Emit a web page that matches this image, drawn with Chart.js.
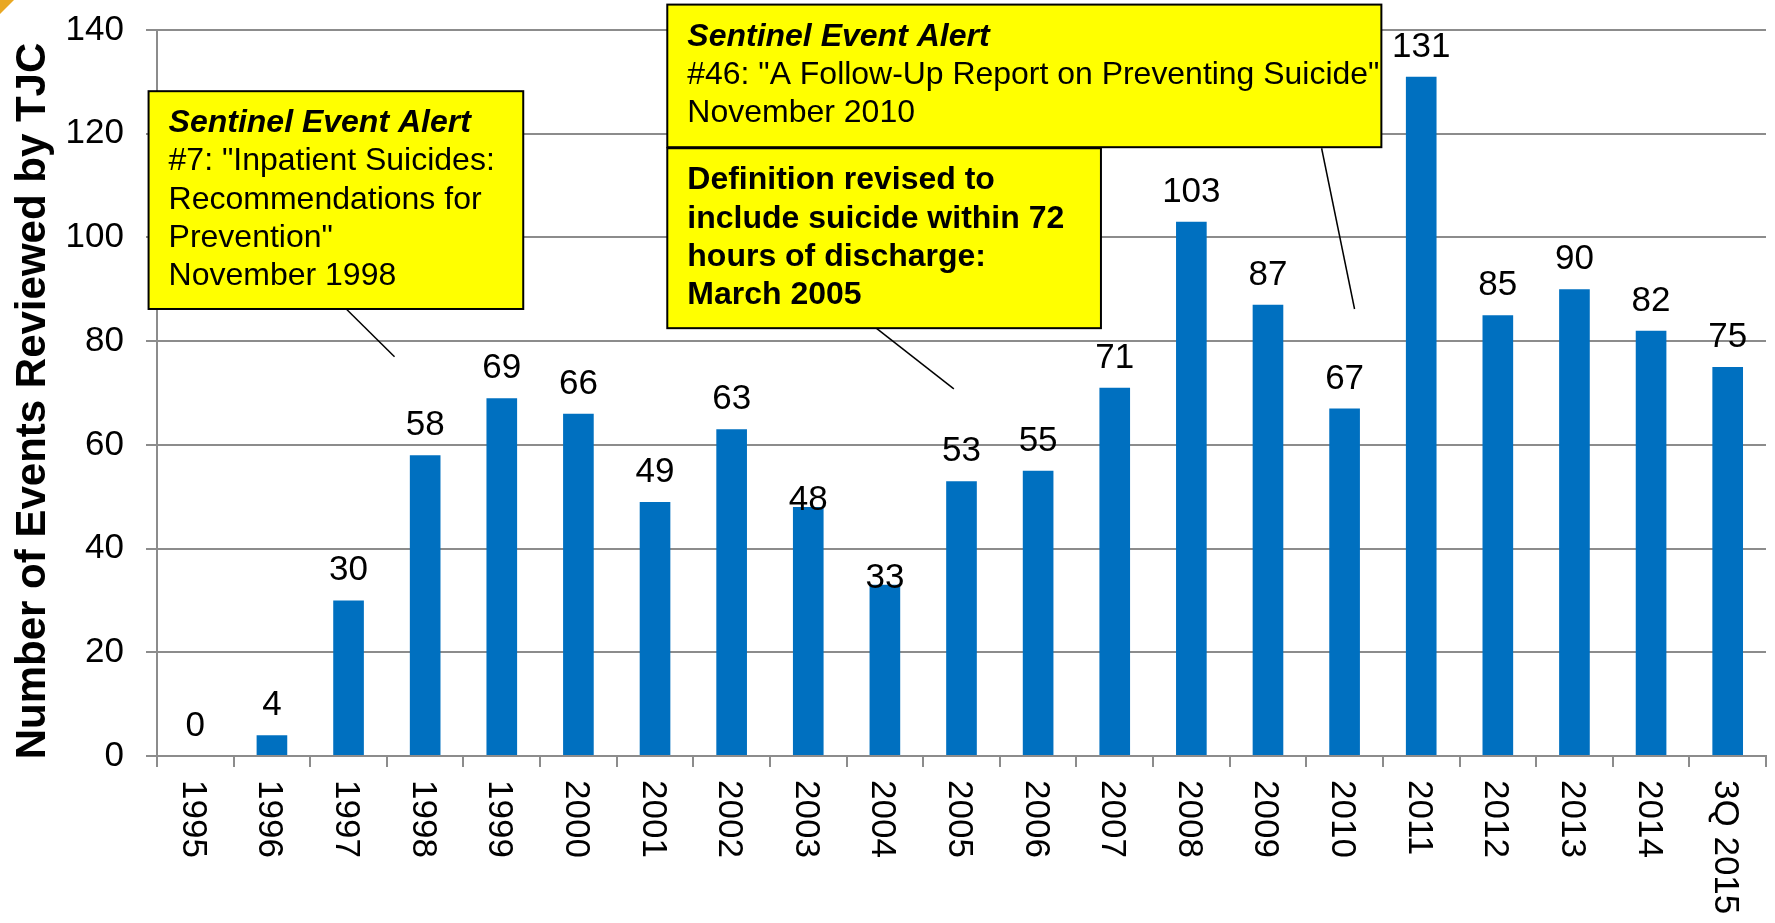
<!DOCTYPE html>
<html>
<head>
<meta charset="utf-8">
<script src="https://cdn.jsdelivr.net/npm/chart.js@4/dist/chart.umd.min.js"></script>
<style>
  html, body { margin: 0; padding: 0; background: #fff; }
  #wrap { width: 1775px; height: 923px; position: relative; }
</style>
</head>
<body>
<div id="wrap"><canvas id="myChart"></canvas></div>
<script>
// data
var years = ['1995', '1996', '1997', '1998', '1999', '2000', '2001', '2002', '2003', '2004', '2005',
             '2006', '2007', '2008', '2009', '2010', '2011', '2012', '2013', '2014', '3Q 2015'];
var counts = [0, 4, 30, 58, 69, 66, 49, 63, 48, 33, 53, 55, 71, 103, 87, 67, 131, 85, 90, 82, 75];
var yTicks = [0, 20, 40, 60, 80, 100, 120, 140];
var yTitle = 'Number of Events Reviewed by TJC';

var FONT = '"Liberation Sans", Arial, sans-serif';
var GRID = '#8c8c8c';
var BLUE = '#0070c0';

// the two labels that sit lower in the original
var labelNudge = { 8: 23, 9: 23 };

// callout boxes, placed in axis units (category index, value)
var notes = [
  {
    box: [-0.61, 128.2, 4.28, 86.2],
    lines: [['bold italic', 'Sentinel Event Alert'],
            ['', '#7: "Inpatient Suicides:'],
            ['', 'Recommendations for'],
            ['', 'Prevention"'],
            ['', 'November 1998']],
    leader: [1.97, 86.2, 2.6, 77.0]
  },
  {
    box: [6.16, 144.9, 15.48, 117.4],
    lines: [['bold italic', 'Sentinel Event Alert'],
            ['', '#46: "A Follow-Up Report on Preventing Suicide"'],
            ['', 'November 2010']],
    leader: [14.7, 117.2, 15.13, 86.2]
  },
  {
    box: [6.16, 117.2, 11.82, 82.5],
    lines: [['bold', 'Definition revised to'],
            ['bold', 'include suicide within 72'],
            ['bold', 'hours of discharge:'],
            ['bold', 'March 2005']],
    leader: [8.87, 82.7, 9.9, 70.8]
  }
];

var extras = {
  id: 'extras',
  beforeDraw: function(chart) {
    var ctx = chart.ctx;
    // little corner mark from the slide
    ctx.save();
    ctx.fillStyle = '#e9a823';
    ctx.beginPath();
    ctx.moveTo(0, 0); ctx.lineTo(14, 0); ctx.lineTo(0, 14);
    ctx.closePath();
    ctx.fill();
    ctx.restore();
  },
  afterDraw: function(chart) {
    var ctx = chart.ctx;
    var xs = chart.scales.x, ys = chart.scales.y;
    var meta = chart.getDatasetMeta(0);
    ctx.save();

    // axis title, turned counter-clockwise
    ctx.save();
    ctx.font = 'bold 42px ' + FONT;
    ctx.fillStyle = '#000';
    ctx.textAlign = 'center';
    ctx.textBaseline = 'alphabetic';
    ctx.translate(45, (ys.top + ys.bottom) / 2 + 8);
    ctx.rotate(-Math.PI / 2);
    ctx.fillText(yTitle, 0, 0);
    ctx.restore();

    // value labels over the bars
    ctx.font = '35px ' + FONT;
    ctx.fillStyle = '#000';
    ctx.textAlign = 'center';
    ctx.textBaseline = 'alphabetic';
    meta.data.forEach(function(bar, i) {
      var nudge = labelNudge[i] || 0;
      ctx.fillText(String(counts[i]), bar.x, bar.y - 20 + nudge);
    });

    // category labels, turned clockwise
    years.forEach(function(lab, i) {
      var px = xs.getPixelForTick(i);
      ctx.save();
      ctx.translate(px - 12.5, xs.top + 24);
      ctx.rotate(Math.PI / 2);
      ctx.textAlign = 'left';
      ctx.fillText(lab, 0, 0);
      ctx.restore();
    });

    // callouts
    notes.forEach(function(n) {
      var l = xs.getPixelForValue(n.leader[0]), t = ys.getPixelForValue(n.leader[1]);
      var r = xs.getPixelForValue(n.leader[2]), b = ys.getPixelForValue(n.leader[3]);
      ctx.strokeStyle = '#000';
      ctx.lineWidth = 1.5;
      ctx.beginPath();
      ctx.moveTo(l, t); ctx.lineTo(r, b);
      ctx.stroke();
    });
    notes.forEach(function(n) {
      var x0 = xs.getPixelForValue(n.box[0]), y0 = ys.getPixelForValue(n.box[1]);
      var x1 = xs.getPixelForValue(n.box[2]), y1 = ys.getPixelForValue(n.box[3]);
      ctx.fillStyle = '#ffff00';
      ctx.fillRect(x0, y0, x1 - x0, y1 - y0);
      ctx.strokeStyle = '#000';
      ctx.lineWidth = 2;
      ctx.strokeRect(x0, y0, x1 - x0, y1 - y0);
      ctx.fillStyle = '#000';
      ctx.textAlign = 'left';
      n.lines.forEach(function(ln, k) {
        ctx.font = (ln[0] ? ln[0] + ' ' : '') + '32px ' + FONT;
        ctx.fillText(ln[1], x0 + 20, y0 + 41 + k * 38.3, x1 - x0 - 22);
      });
    });

    ctx.restore();
  }
};

var ctx = document.getElementById('myChart').getContext('2d');
var chart = new Chart(ctx, {
  type: 'bar',
  data: {
    labels: years,
    datasets: [{
      data: counts,
      backgroundColor: BLUE,
      barPercentage: 0.4,
      categoryPercentage: 1
    }]
  },
  options: {
    responsive: true,
    maintainAspectRatio: false,
    animation: false,
    layout: { padding: { left: 0, top: 30, right: 9, bottom: 0 } },
    plugins: { legend: { display: false }, tooltip: { enabled: false } },
    scales: {
      x: {
        grid: { offset: true, drawOnChartArea: false, drawTicks: true, tickLength: 11, color: GRID, lineWidth: 2 },
        border: { color: GRID, width: 2 },
        ticks: { display: false },
        afterFit: function(s) { s.height = 167; }
      },
      y: {
        min: 0,
        max: 140,
        afterBuildTicks: function(s) { s.ticks = yTicks.map(function(v) { return { value: v }; }); },
        grid: { color: GRID, lineWidth: 2, tickLength: 11 },
        border: { color: GRID, width: 2 },
        ticks: { color: '#000', padding: 22, font: { family: FONT, size: 35 } },
        afterFit: function(s) { s.width = 157; s.paddingTop = 0; s.paddingBottom = 0; }
      }
    }
  },
  plugins: [extras]
});
</script>
</body>
</html>
